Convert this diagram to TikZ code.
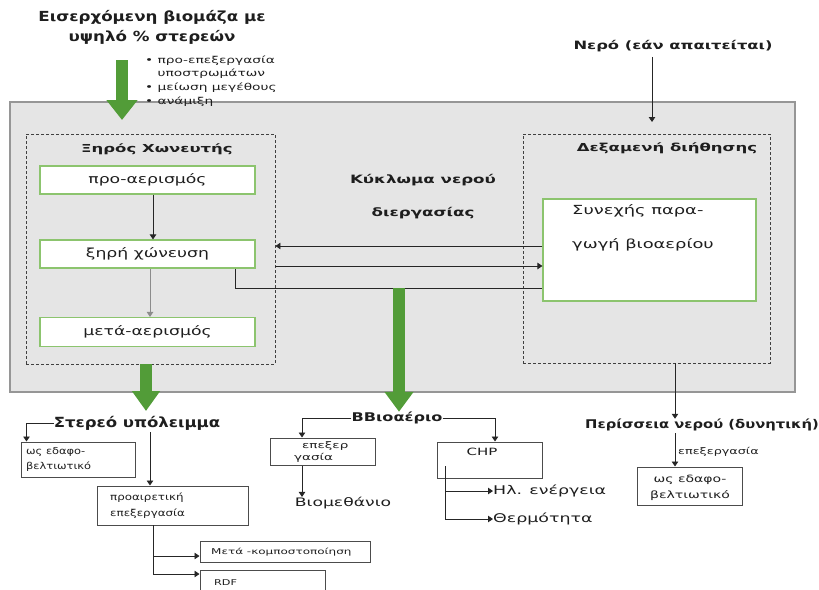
\documentclass[tikz,border=0pt]{standalone}
\usepackage{fontspec}
\setmainfont{DejaVu Sans}
\usetikzlibrary{arrows.meta}

\definecolor{plantfill}{RGB}{229,229,229}
\definecolor{plantline}{RGB}{150,150,150}
\definecolor{flowgreen}{RGB}{82,156,56}
\definecolor{boxgreen}{RGB}{140,196,110}
\definecolor{ink}{RGB}{30,30,30}

% size, line distance, horizontal stretch
\newcommand\fnt[3]{\fontsize{#1}{#2}\selectfont\addfontfeatures{FakeStretch=#3}}
\newcommand\bfnt[3]{\bfseries\fontsize{#1}{#2}\selectfont\addfontfeatures{FakeStretch=#3}}

\tikzset{
  txt/.style={text=ink, inner sep=0pt},
  dashbox/.style={draw=black!75, dash pattern=on 3pt off 2pt, line width=0.9pt, inner sep=0pt},
  procbox/.style={draw=boxgreen, fill=white, line width=1.1pt, inner sep=0pt, text=ink,
                  font=\fnt{12.5}{14}{1.38}},
  outbox/.style={draw=black!70, fill=white, line width=1pt, inner sep=0pt},
  arr/.style={draw=black!85, line width=0.9pt, -{Triangle[width=6.5pt,length=5pt]}},
  wire/.style={draw=black!85, line width=0.9pt},
  bigarrow/.style={draw=flowgreen, line width=12pt, -{Triangle[width=#1,length=20pt]}},
}

\begin{document}
\begin{tikzpicture}[x=1pt,y=-1pt]
\useasboundingbox (0,0) rectangle (819,589);
\clip (0,0) rectangle (819,589);

% plant enclosure
\node[draw=plantline, fill=plantfill, line width=1.2pt, minimum width=785, minimum height=290, inner sep=0pt]
  (plant) at (402.5,247) {};

% incoming feedstock
\node[txt, align=center, font=\bfnt{13.9}{20}{1.2}] (feed) at (152,27)
  {Εισερχόμενη βιομάζα με\\υψηλό \% στερεών};
\node[txt, anchor=north west, align=left, font=\fnt{9.5}{13.7}{1.45}] (pretreat) at (145,55.5)
  {• προ-επεξεργασία\\\phantom{• }υποστρωμάτων\\• μείωση μεγέθους\\• ανάμιξη};
\coordinate (feedtop) at (122,60);
\coordinate (feedtip) at (122,120);
\draw[bigarrow=30pt] (feedtop) -- (feedtip);

% dry digester
\node[dashbox, minimum width=249, minimum height=230] (digester) at (150.5,249) {};
\node[txt, font=\bfnt{11}{13}{1.5}] (digtitle) at (157,149) {Ξηρός Χωνευτής};
\node[procbox, minimum width=215, minimum height=28] (pre) at (147.5,180) {προ-αερισμός};
\node[procbox, minimum width=215, minimum height=28] (dig) at (147.5,254) {ξηρή χώνευση};
\node[procbox, minimum width=215, minimum height=29] (post) at (147.5,332) {μετά-αερισμός};
\draw[arr] ([xshift=5.5pt]pre.south) -- ([xshift=5.5pt]pre.south |- dig.north);
\draw[arr, draw=black!45] ([xshift=2.5pt]dig.south) -- ([xshift=2.5pt]dig.south |- post.north);

% percolate tank
\node[dashbox, minimum width=247, minimum height=229] (tank) at (646.5,248.5) {};
\node[txt, font=\bfnt{11}{13}{1.5}] (tanktitle) at (667,148) {Δεξαμενή διήθησης};
\node[procbox, minimum width=213, minimum height=102] (bio) at (649.5,250) {};
\node[txt, anchor=west, align=left, font=\fnt{12.5}{34}{1.43}] (biotext) at (572,228)
  {Συνεχής παρα-\\γωγή βιοαερίου};

% process water
\node[txt, font=\bfnt{11.5}{13}{1.42}] (water) at (673,46) {Νερό (εάν απαιτείται)};
\coordinate (watertip) at (652,122);
\draw[arr] (water.south -| watertip) ++(0,5) -- (watertip);

% process water circuit
\node[txt, align=center, font=\bfnt{11.5}{33}{1.45}] (circuit) at (423,197)
  {Κύκλωμα νερού\\διεργασίας};
\draw[arr] (bio.west |- 0,246) -- (digester.east |- 0,246);
\draw[arr] (digester.east |- 0,266) -- (bio.west |- 0,266);
\coordinate (drain) at (235,288);
\draw[wire] (dig.south -| drain) -- (drain) -- (bio.west |- drain);

% outputs from the plant
\coordinate (gastop) at (399,288);
\node[txt, font=\bfnt{12}{14}{1.34}] (biogas) at (397,418) {ΒΒιοαέριο};
\draw[bigarrow=28pt] (gastop) -- (biogas.north -| gastop);

\node[txt, font=\bfnt{14}{16}{1.18}] (solid) at (137,423) {Στερεό υπόλειμμα};
\draw[bigarrow=27pt] (digester.south -| 146,0) -- (146,411);

% solid digestate
\node[outbox, minimum width=114, minimum height=35] (soil1) at (78,459.5) {};
\node[txt, anchor=north west, align=left, font=\fnt{9.5}{15}{1.2}] (soil1txt) at (26,447)
  {ως εδαφο-\\βελτιωτικό};
\draw[arr] (solid.west) -| ([xshift=6pt]soil1.north west);

\node[outbox, minimum width=151, minimum height=39] (opt) at (172.5,505.5) {};
\node[txt, anchor=north west, align=left, font=\fnt{9.5}{16}{1.25}] (opttxt) at (110,492.5)
  {προαιρετική\\επεξεργασία};
\draw[arr] ([xshift=13pt]solid.south) ++(0,2) -- ([xshift=13pt]solid.south |- opt.north);

\node[outbox, minimum width=170, minimum height=21] (compost) at (285,551.5) {};
\node[txt, anchor=west, font=\fnt{8}{9}{1.5}] (composttxt) at (211,552) {Μετά -κομποστοποίηση};
\node[outbox, minimum width=125, minimum height=40] (rdf) at (262.5,590) {};
\node[txt, anchor=west, font=\fnt{8}{9}{1.4}] (rdftxt) at (214,583) {RDF};
\coordinate (optout) at (153,525);
\draw[arr] (optout) |- (compost.west |- 0,556);
\draw[arr] (optout) |- (rdf.west |- 0,574);

% biogas use
\node[outbox, minimum width=105, minimum height=27] (upg) at (322.5,451.5) {};
\node[txt, anchor=north west, align=left, font=\fnt{9}{12}{1.5}] (upgtxt) at (294,441)
  {\phantom{γ}επεξερ\\γασία};
\draw[arr] (biogas.west) -| ([xshift=-20.5pt]upg.north);
\node[txt, font=\fnt{11.7}{13}{1.47}] (biomethane) at (343,503) {Βιομεθάνιο};
\draw[arr] ([xshift=-20.5pt]upg.south) -- ([xshift=-20.5pt]upg.south |- biomethane.north);

\node[outbox, minimum width=105, minimum height=36] (chp) at (489.5,460) {};
\node[txt, font=\fnt{10}{12}{1.5}] (chptxt) at (482,452) {CHP};
\draw[arr] (biogas.east) -| ([xshift=5.5pt]chp.north);
\node[txt, anchor=west, font=\fnt{12}{14}{1.45}] (elec) at (493,491) {Ηλ. ενέργεια};
\node[txt, anchor=west, font=\fnt{12}{14}{1.45}] (heat) at (493,519) {Θερμότητα};
\coordinate (chpout) at (445,466);
\draw[arr] (chpout) |- (elec.west);
\draw[arr] (chpout) |- (heat.west);

% excess water
\node[txt, font=\bfnt{12}{14}{1.23}] (excess) at (702,425) {Περίσσεια νερού (δυνητική)};
\draw[arr] ([xshift=28.5pt]tank.south) -- ([xshift=28.5pt]tank.south |- excess.north);
\node[outbox, minimum width=105, minimum height=38] (soil2) at (689.5,486) {};
\node[txt, align=center, font=\fnt{10}{16}{1.4}] (soil2txt) at (690,488)
  {ως εδαφο-\\βελτιωτικό};
\draw[arr] (excess.south -| 675,0) ++(0,2) -- (soil2.north -| 675,0);
\node[txt, anchor=west, font=\fnt{9}{11}{1.42}] (treat) at (678,452) {επεξεργασία};

\end{tikzpicture}
\end{document}
